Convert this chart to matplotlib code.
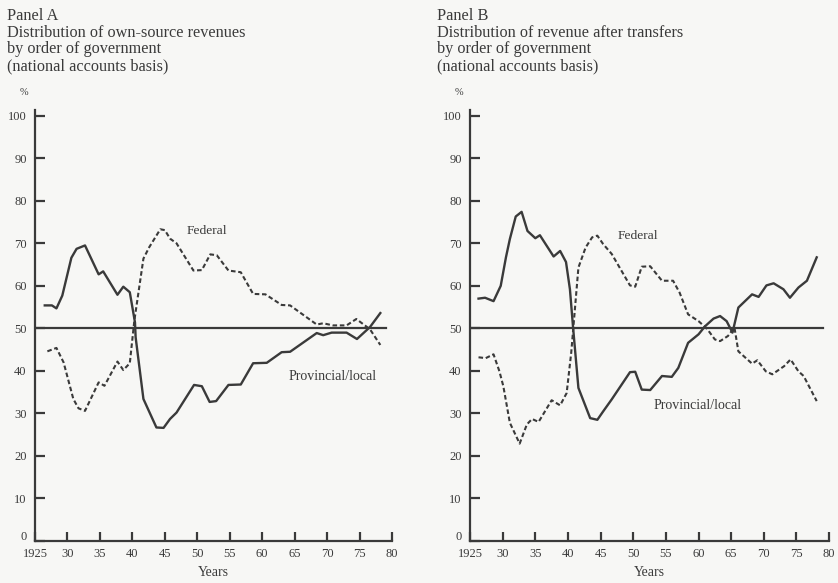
import matplotlib
matplotlib.use('Agg')
import matplotlib.pyplot as plt
import matplotlib.transforms as mtransforms

# Panel A: own-source revenues
a_prov_years = [1926.5, 1927.6, 1928.3, 1929.2, 1930.6, 1931.4, 1932.7, 1934.8, 1935.5, 1937.7, 1938.6, 1939.6,
                1940.4, 1940.5, 1941.7, 1943.7, 1944.8, 1945.8, 1946.8, 1949.5, 1950.7, 1951.9, 1952.9, 1954.8,
                1956.7, 1958.6, 1960.7, 1963.0, 1964.3, 1968.4, 1969.4, 1970.7, 1973.0, 1974.6, 1976.6, 1978.2]
a_prov = [55.4, 55.4, 54.7, 57.7, 66.6, 68.7, 69.5, 62.7, 63.4, 57.9, 59.8, 58.5,
          51.4, 47.9, 33.4, 26.7, 26.6, 28.7, 30.2, 36.7, 36.4, 32.7, 32.9, 36.7,
          36.8, 41.8, 41.9, 44.4, 44.5, 48.9, 48.4, 49.0, 49.0, 47.5, 50.3, 53.6]
a_fed_years = [1926.9, 1928.3, 1929.4, 1930.9, 1931.7, 1932.7, 1934.8, 1935.7, 1937.7, 1938.6, 1939.6, 1940.3,
               1941.7, 1942.6, 1944.3, 1945.0, 1945.8, 1946.8, 1949.4, 1950.7, 1952.0, 1953.0, 1954.8, 1956.7,
               1958.6, 1960.5, 1963.0, 1964.3, 1968.4, 1969.4, 1970.9, 1973.0, 1974.5, 1976.6, 1978.2]
a_fed = [44.6, 45.4, 42.0, 33.4, 31.2, 30.6, 37.3, 36.5, 42.2, 40.2, 41.8, 51.8,
         66.4, 69.1, 73.3, 73.1, 71.1, 70.0, 63.6, 63.7, 67.4, 67.2, 63.6, 63.2,
         58.1, 58.0, 55.5, 55.4, 50.9, 51.2, 50.7, 50.7, 52.2, 49.8, 46.1]

# Panel B: revenue after transfers
b_prov_years = [1926.3, 1927.3, 1928.6, 1929.7, 1930.5, 1931.1, 1932.0, 1932.9, 1933.8, 1935.0, 1935.7, 1937.8,
                1938.8, 1939.7, 1940.3, 1940.8, 1941.6, 1943.4, 1944.5, 1945.4, 1946.7, 1949.5, 1950.3, 1951.3,
                1952.6, 1954.4, 1955.9, 1956.9, 1958.4, 1960.0, 1961.0, 1962.3, 1963.3, 1964.3, 1965.2, 1966.1,
                1968.2, 1969.2, 1970.4, 1971.5, 1973.0, 1974.0, 1975.3, 1976.6, 1978.1]
b_prov = [57.0, 57.2, 56.4, 60.0, 66.7, 71.0, 76.3, 77.4, 72.9, 71.2, 71.9, 66.9,
          68.2, 65.6, 59.2, 49.9, 36.0, 28.9, 28.5, 30.5, 33.3, 39.7, 39.8, 35.6,
          35.5, 38.8, 38.6, 40.7, 46.6, 48.6, 50.5, 52.3, 52.9, 51.7, 49.0, 54.9,
          58.0, 57.4, 60.1, 60.6, 59.2, 57.2, 59.6, 61.2, 66.7]
b_fed_years = [1926.3, 1927.4, 1928.6, 1929.5, 1930.1, 1931.1, 1932.6, 1933.7, 1934.5, 1935.5, 1937.5, 1938.8,
               1939.8, 1940.5, 1941.6, 1942.7, 1943.7, 1944.5, 1945.4, 1946.7, 1949.5, 1950.3, 1951.3, 1952.6,
               1954.4, 1956.1, 1957.1, 1958.4, 1960.0, 1961.3, 1962.5, 1963.3, 1964.5, 1965.5, 1966.1, 1968.2,
               1969.0, 1970.3, 1971.3, 1973.1, 1974.1, 1975.3, 1976.1, 1978.1]
b_fed = [43.2, 43.0, 43.9, 39.9, 36.4, 27.8, 22.9, 27.4, 28.7, 28.0, 33.1, 31.9,
         34.8, 44.3, 64.3, 69.0, 71.4, 71.8, 69.8, 67.5, 60.1, 59.8, 64.5, 64.6,
         61.2, 61.2, 58.4, 53.3, 51.7, 49.9, 47.4, 47.0, 48.2, 50.2, 44.6, 41.7,
         42.5, 39.9, 39.2, 41.1, 42.7, 39.9, 38.8, 32.9]

x_ticks = [1925, 1930, 1935, 1940, 1945, 1950, 1955, 1960, 1965, 1970, 1975, 1980]
x_labels = ['1925', '30', '35', '40', '45', '50', '55', '60', '65', '70', '75', '80']
y_ticks = list(range(0, 101, 10))

panels = [
	('Panel A\nDistribution of own-source revenues\nby order of government\n(national accounts basis)',
	 a_prov_years, a_prov, a_fed_years, a_fed, (1951.5, 72.8), (1970.8, 38.6)),
	('Panel B\nDistribution of revenue after transfers\nby order of government\n(national accounts basis)',
	 b_prov_years, b_prov, b_fed_years, b_fed, (1950.7, 71.7), (1959.8, 31.8)),
]

ink = '#3a3a3a'
bg = '#f7f7f5'
plt.rcParams['font.family'] = ['Liberation Serif', 'DejaVu Serif']

fig = plt.figure(figsize=(8.38, 5.83), dpi=100, facecolor=bg)
boxes = [[0.0418, 0.072, 0.426, 0.739], [0.5609, 0.072, 0.4285, 0.739]]
title_x = [0.008, 0.522]


def drawPanel(ax, panel, tx):
	title, p_years, p_vals, f_years, f_vals, fed_pos, prov_pos = panel
	ax.set_facecolor(bg)
	ax.plot(p_years, p_vals, color=ink, lw=1.7, solid_joinstyle='round')
	ax.plot(f_years, f_vals, color=ink, lw=1.5, linestyle=(0, (2.2, 1.3)))
	ax.plot([1925, 1979], [50, 50], color=ink, lw=1.6)
	ax.set_xlim(1925, 1980)
	ax.set_ylim(0, 101.3)
	ax.set_xticks(x_ticks)
	ax.set_xticklabels(x_labels)
	ax.set_yticks(y_ticks)
	for side in ['top', 'right']:
		ax.spines[side].set_visible(False)
	for side in ['left', 'bottom']:
		ax.spines[side].set_color(ink)
		ax.spines[side].set_linewidth(1.6)
	ax.tick_params(axis='y', direction='in', length=7, width=1.6, color=ink, labelcolor=ink, labelsize=9, pad=6)
	ax.tick_params(axis='x', direction='in', length=6.5, width=1.6, color=ink, labelcolor=ink, labelsize=9, pad=5)
	# the "0" sits a little above the corner in the print
	lab0 = ax.get_yticklabels()[0]
	lab0.set_transform(lab0.get_transform() + mtransforms.ScaledTranslation(0, 4 / 72, fig.dpi_scale_trans))
	ax.text(fed_pos[0], fed_pos[1], 'Federal', color=ink, fontsize=9.7, ha='center', va='center')
	ax.text(prov_pos[0], prov_pos[1], 'Provincial/local', color=ink, fontsize=10, ha='center', va='center')
	ax.text(-0.03, 1.04, '%', transform=ax.transAxes, color=ink, fontsize=7.5, ha='center', va='center')
	ax.set_xlabel('Years', color=ink, fontsize=10, labelpad=4)
	fig.text(tx, 0.987, title, color=ink, fontsize=11.7, ha='left', va='top', linespacing=1.08)


for i in range(2):
	ax = fig.add_axes(boxes[i])
	drawPanel(ax, panels[i], title_x[i])

fig.savefig('out.png', dpi=100, facecolor=bg)
